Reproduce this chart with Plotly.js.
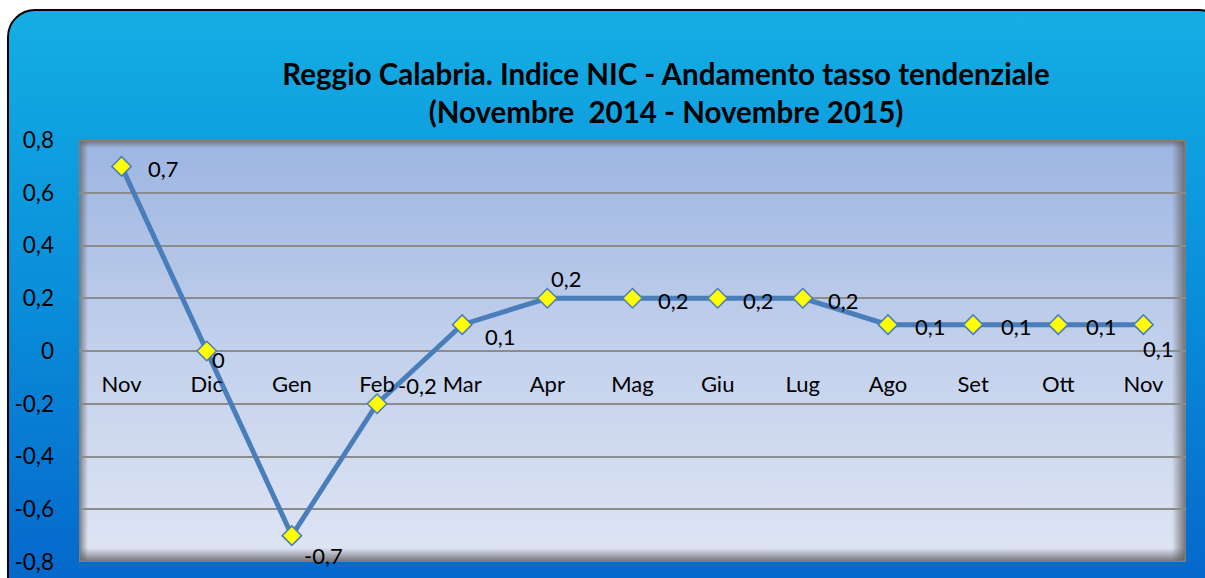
<!DOCTYPE html>
<html>
<head>
<meta charset="utf-8">
<script src="https://cdn.plot.ly/plotly-3.0.1.min.js"></script>
<style>
  html, body { margin: 0; padding: 0; background: #ffffff; overflow: hidden; }
  #frame {
    position: absolute; left: 7px; top: 9px; width: 1220px; height: 620px;
    box-sizing: border-box; border: 2px solid #000; border-radius: 28px;
    background: linear-gradient(to bottom, #14aee4 0%, #0a8fda 45%, #0462c9 100%);
  }
  #chart { position: absolute; left: 0; top: 0; width: 1205px; height: 578px; }
</style>
</head>
<body>
<div id="frame"></div>
<div id="chart"></div>
<script>
// ---- data ----
const categories = ["Nov", "Dic", "Gen", "Feb", "Mar", "Apr", "Mag", "Giu", "Lug", "Ago", "Set", "Ott", "Nov"];
const values = [0.7, 0, -0.7, -0.2, 0.1, 0.2, 0.2, 0.2, 0.2, 0.1, 0.1, 0.1, 0.1];
const yTickVals = [-0.8, -0.6, -0.4, -0.2, 0, 0.2, 0.4, 0.6, 0.8];
const titleLines = ["Reggio Calabria. Indice NIC - Andamento tasso tendenziale", "(Novembre  2014 - Novembre 2015)"];

// ---- label placement (style only, pixels from each point) ----
const labelDx = [42, 12, 32, 40, 38, 19, 41, 41, 41, 43, 43, 43, 15];
const labelDy = [-2, -8, -20, 18, -12, 20, -2, -2, -2, -2, -2, -2, -24];

const FONT = "Lato, 'Noto Sans', sans-serif";
const fmt = v => (v === 0) ? "0" : String(v).replace(".", ",");
const xIdx = categories.map((c, i) => i);

// plot area background with inner shadow (SVG data uri)
const W = 1107, H = 422;
const svg = `<svg xmlns="http://www.w3.org/2000/svg" width="${W}" height="${H}" viewBox="0 0 ${W} ${H}" preserveAspectRatio="none">
<defs>
<linearGradient id="g" x1="0" y1="0" x2="0" y2="1">
<stop offset="0" stop-color="#9db5e1"/><stop offset="0.5" stop-color="#c3d1ec"/><stop offset="1" stop-color="#dfe5f4"/></linearGradient>
<linearGradient id="t" x1="0" y1="0" x2="0" y2="1"><stop offset="0" stop-color="#555" stop-opacity="0.7"/><stop offset="1" stop-color="#555" stop-opacity="0"/></linearGradient>
<linearGradient id="b" x1="0" y1="1" x2="0" y2="0"><stop offset="0" stop-color="#555" stop-opacity="0.8"/><stop offset="1" stop-color="#555" stop-opacity="0"/></linearGradient>
<linearGradient id="l" x1="0" y1="0" x2="1" y2="0"><stop offset="0" stop-color="#555" stop-opacity="0.7"/><stop offset="1" stop-color="#555" stop-opacity="0"/></linearGradient>
<linearGradient id="r" x1="1" y1="0" x2="0" y2="0"><stop offset="0" stop-color="#555" stop-opacity="0.8"/><stop offset="1" stop-color="#555" stop-opacity="0"/></linearGradient>
</defs>
<rect x="0" y="0" width="${W}" height="${H}" fill="url(#g)"/>
<rect x="0" y="0" width="${W}" height="8" fill="url(#t)"/>
<rect x="0" y="${H-14}" width="${W}" height="14" fill="url(#b)"/>
<rect x="0" y="0" width="9" height="${H}" fill="url(#l)"/>
<rect x="${W-14}" y="0" width="14" height="${H}" fill="url(#r)"/>
<rect x="0.75" y="0.75" width="${W-1.5}" height="${H-1.5}" fill="none" stroke="#7f7f7f" stroke-width="1.5"/>
</svg>`;
const bgUri = "data:image/svg+xml;charset=utf-8," + encodeURIComponent(svg);

const trace = {
  x: xIdx,
  y: values,
  type: "scatter",
  mode: "lines+markers",
  line: { color: "#4a7ebb", width: 5 },
  marker: { symbol: "diamond", size: 15, color: "#ffff00", line: { color: "#4a7ebb", width: 1.5 } },
  cliponaxis: false,
  hoverinfo: "skip"
};

const dataLabels = values.map((v, i) => ({
  x: xIdx[i], y: v, xref: "x", yref: "y",
  text: fmt(v), showarrow: false,
  xanchor: "center", yanchor: "middle",
  xshift: labelDx[i], yshift: labelDy[i],
  font: { family: FONT, size: 22, color: "#000" }
}));

const layout = {
  width: 1205, height: 578,
  margin: { l: 79, r: 19, t: 140, b: 16 },
  paper_bgcolor: "rgba(0,0,0,0)",
  plot_bgcolor: "rgba(0,0,0,0)",
  showlegend: false,
  font: { family: FONT, color: "#000" },
  title: {
    text: "<b>" + titleLines.join("<br>") + "</b>",
    font: { family: FONT, size: 29.5, color: "#000" },
    x: 666 / 1205, xanchor: "center", xref: "container",
    y: 0.853, yanchor: "top", yref: "container"
  },
  xaxis: {
    range: [-0.5, categories.length - 0.5],
    anchor: "free", position: 0.5,
    tickvals: xIdx, ticktext: categories,
    showgrid: false, zeroline: false, showline: false,
    ticks: "", ticklabelstandoff: 18,
    tickfont: { family: FONT, size: 22, color: "#000" },
    fixedrange: true
  },
  yaxis: {
    range: [-0.8, 0.8],
    tickvals: yTickVals, ticktext: yTickVals.map(fmt),
    showgrid: true, gridcolor: "#8c8c8c", gridwidth: 2,
    zeroline: true, zerolinecolor: "#8c8c8c", zerolinewidth: 2,
    showline: false, ticks: "", ticklabelstandoff: 24,
    tickfont: { family: FONT, size: 22.5, color: "#000" },
    fixedrange: true
  },
  annotations: dataLabels,
  images: [{
    source: bgUri, xref: "paper", yref: "paper",
    x: 0, y: 1, sizex: 1, sizey: 1, xanchor: "left", yanchor: "top",
    sizing: "stretch", layer: "below"
  }]
};

Plotly.newPlot("chart", [trace], layout, { displayModeBar: false, staticPlot: true });
</script>
</body>
</html>
